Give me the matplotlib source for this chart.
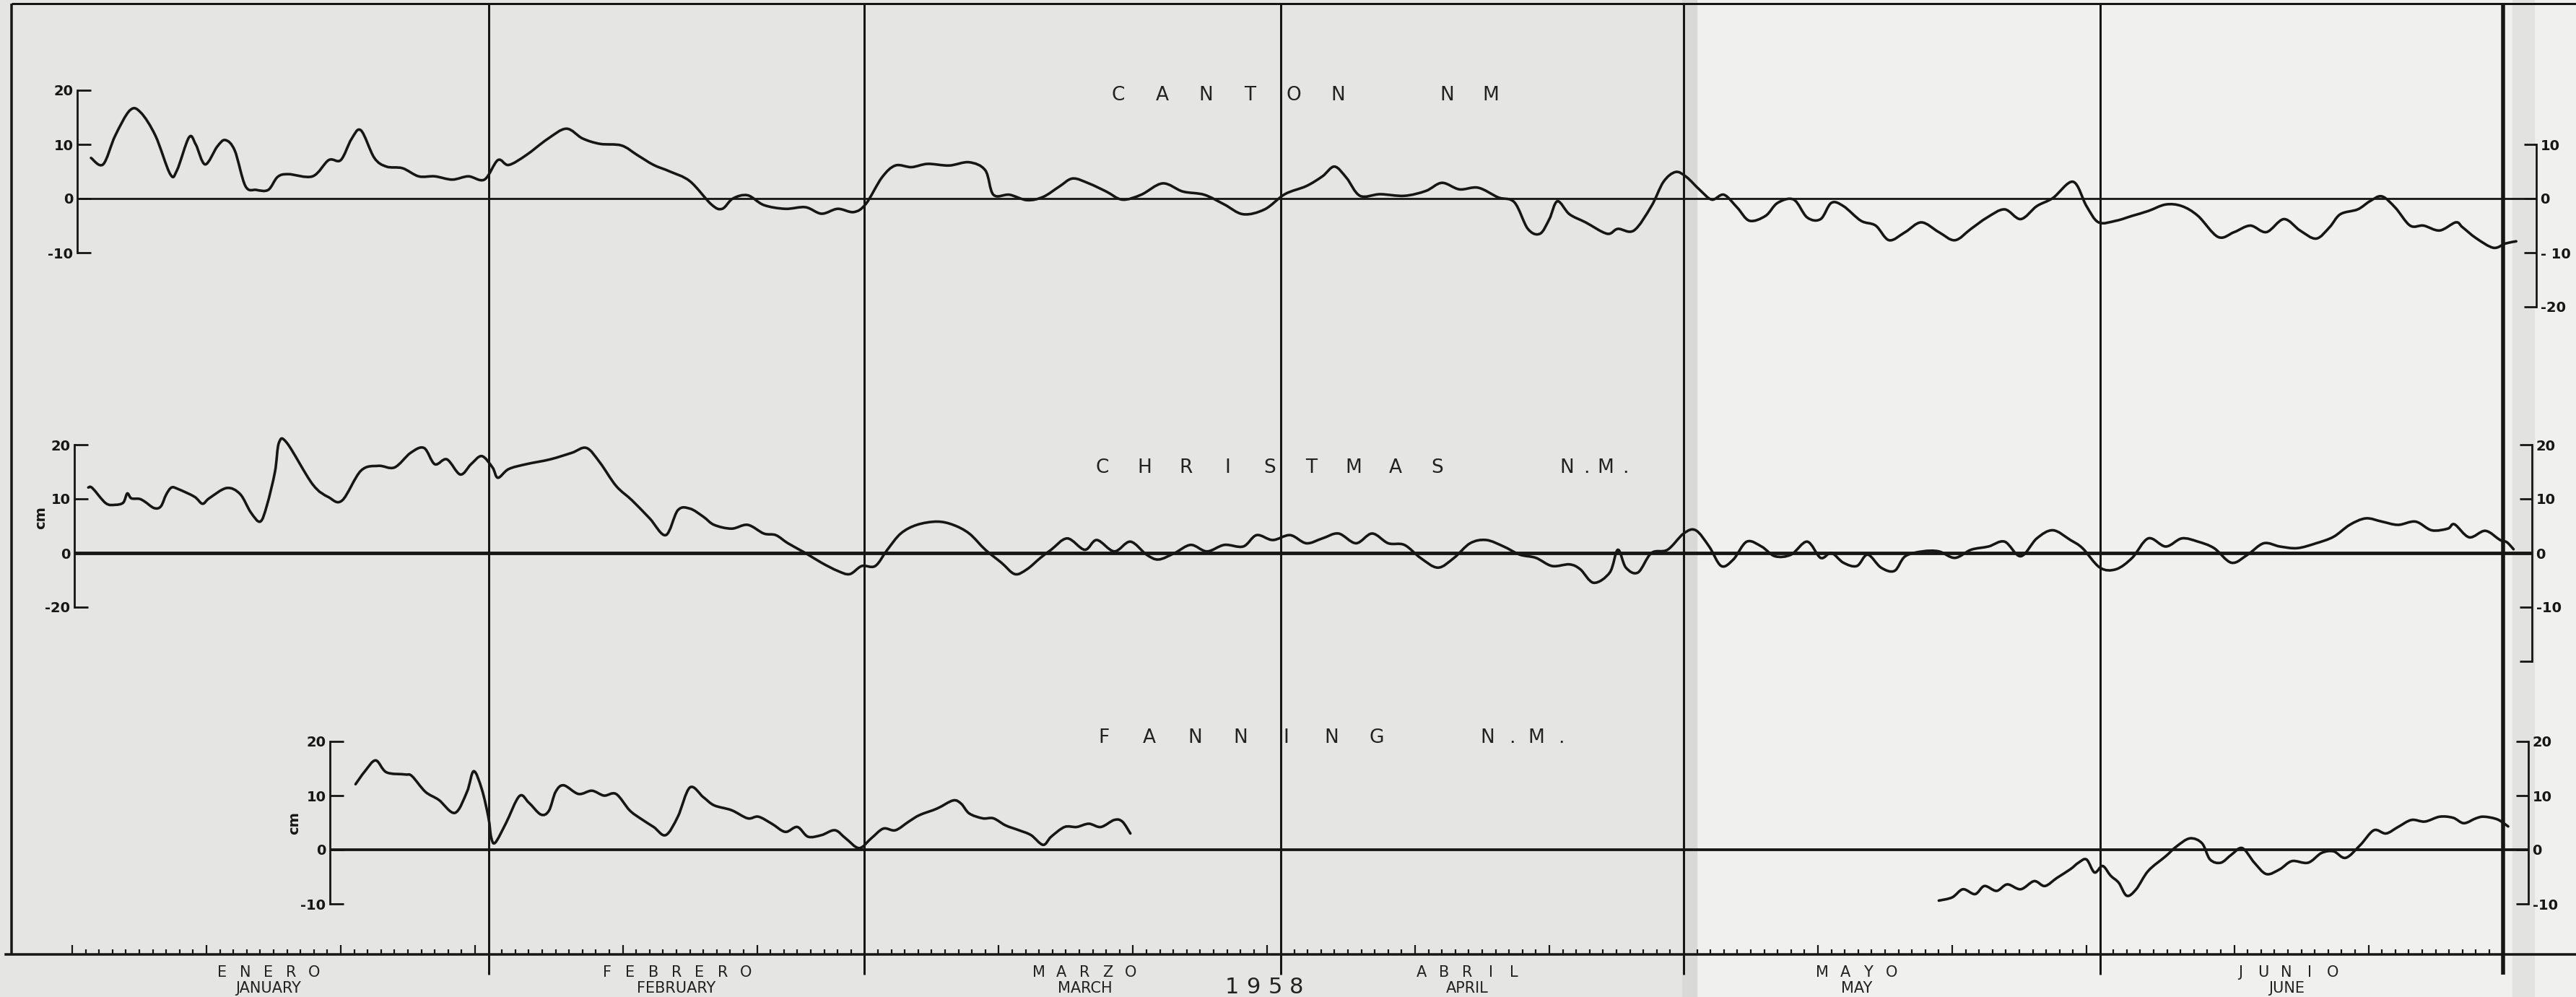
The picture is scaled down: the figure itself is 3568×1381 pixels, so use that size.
import numpy as np
import matplotlib.pyplot as plt
from matplotlib.patches import Rectangle, PathPatch
from matplotlib.path import Path

W, H, DPI = 3568, 1381, 100
PX = 72 / DPI                     # points per pixel
X0, DAY = 100, 18.6               # 1 Jan at x0, pixels per day
CM = 7.5                          # pixels per cm
XLIM = (-X0 / DAY, (W - X0) / DAY)
NARROW = ["Liberation Sans Narrow", "DejaVu Sans"]

# day of year 1958 (0 = 1 Jan) and sea level departure in cm
canton_days = [1.4, 2.3, 3.2, 4.3, 5.1, 6.2, 7.3, 7.8, 8.7, 9.2,
               9.9, 10.8, 11.4, 12.1, 12.9, 13.7, 14.6, 15.3, 16.1, 17.9,
               19.1, 20.0, 20.8, 21.5, 22.5, 23.4, 24.6, 25.8, 27.0, 28.3,
               29.5, 30.7, 31.7, 32.5, 33.8, 35.4, 36.8, 38.0, 39.3, 40.9,
               42.1, 43.3, 44.5, 46.0, 47.6, 48.4, 49.2, 50.3, 51.5, 53.1,
               54.6, 55.8, 57.0, 58.2, 59.1, 60.3, 61.3, 62.5, 63.7, 65.3,
               66.8, 68.0, 68.6, 69.8, 71.1, 72.3, 73.5, 74.5, 75.7, 77.0,
               78.2, 79.6, 81.2, 82.7, 84.3, 85.8, 87.2, 88.8, 90.3, 91.9,
               93.1, 94.0, 94.9, 95.9, 97.4, 99.2, 100.8, 102.0, 103.3, 104.7,
               106.2, 107.4, 108.4, 109.3, 110.0, 110.6, 111.5, 112.7, 114.3, 115.1,
               116.3, 117.6, 118.5, 119.4, 120.2, 121.2, 122.1, 123.0, 124.0, 124.9,
               126.1, 127.0, 128.2, 129.2, 130.2, 131.0, 131.9, 133.2, 134.3, 135.3,
               136.5, 137.7, 139.0, 140.2, 141.4, 142.6, 143.9, 145.1, 146.3, 147.5,
               149.0, 150.0, 150.9, 152.2, 153.4, 154.6, 155.9, 157.1, 158.3, 159.8,
               161.0, 162.2, 163.4, 164.7, 165.9, 167.1, 168.1, 168.9, 170.2, 171.1,
               172.0, 173.0, 174.1, 175.1, 176.3, 177.5, 178.0, 179.0, 180.3, 181.2,
               182.0]
canton_cm = [7.5, 6.3, 11.6, 16.3, 15.9, 11.6, 4.5, 5.2, 11.3, 10.0,
             6.3, 9.6, 10.8, 8.9, 2.3, 1.6, 1.6, 4.0, 4.5, 4.1,
             7.1, 7.1, 11.0, 12.6, 7.5, 5.9, 5.6, 4.1, 4.1, 3.5,
             4.1, 3.5, 7.1, 6.2, 8.0, 11.0, 12.9, 11.1, 10.1, 9.8,
             8.0, 6.2, 5.0, 3.2, -1.1, -1.9, 0.0, 0.6, -1.2, -1.9,
             -1.6, -2.8, -1.9, -2.5, -1.0, 3.9, 6.1, 5.8, 6.4, 6.1,
             6.7, 5.2, 0.7, 0.7, -0.3, 0.3, 2.2, 3.7, 2.8, 1.3,
             -0.2, 0.7, 2.8, 1.3, 0.7, -1.1, -2.9, -2.0, 0.8, 2.3,
             4.1, 5.9, 3.8, 0.5, 0.8, 0.5, 1.4, 2.9, 1.7, 2.0,
             0.2, -0.7, -5.6, -6.5, -3.8, -0.5, -2.9, -4.4, -6.5, -5.6,
             -5.9, -1.4, 3.1, 4.9, 4.0, 1.6, -0.2, 0.7, -1.7, -4.1,
             -3.2, -0.8, -0.2, -3.5, -3.8, -0.8, -1.4, -4.1, -5.0, -7.7,
             -6.2, -4.4, -6.2, -7.7, -5.6, -3.5, -2.0, -3.8, -1.4, 0.1,
             3.1, -1.4, -4.4, -4.1, -3.2, -2.3, -1.1, -1.4, -3.2, -7.1,
             -6.2, -5.0, -6.2, -3.8, -5.9, -7.4, -5.3, -2.9, -2.0, -0.5,
             0.4, -1.7, -5.0, -5.0, -5.9, -4.4, -5.3, -7.3, -9.1, -8.3,
             -7.9]

christmas_days = [1.2, 1.5, 2.5, 3.2, 3.8, 4.1, 4.4, 5.0, 5.4, 6.1,
                  6.6, 7.0, 7.4, 7.9, 9.1, 9.7, 10.2, 11.5, 12.5, 13.3,
                  14.0, 14.5, 15.1, 15.4, 16.0, 17.9, 19.1, 20.1, 21.5, 22.8,
                  24.0, 25.2, 26.2, 27.0, 27.9, 28.9, 29.7, 30.5, 31.3, 31.7,
                  32.5, 33.8, 35.6, 37.2, 38.3, 39.3, 40.5, 41.7, 43.0, 44.2,
                  45.1, 46.0, 47.0, 47.8, 49.1, 50.3, 51.5, 52.4, 53.3, 54.6,
                  55.8, 57.0, 57.9, 58.8, 59.8, 60.7, 61.7, 62.9, 64.4, 65.6,
                  66.8, 68.0, 69.2, 70.2, 71.1, 72.1, 72.9, 74.1, 75.4, 76.3,
                  77.6, 78.8, 80.0, 80.9, 82.1, 83.3, 84.5, 85.8, 87.2, 88.2,
                  89.4, 90.7, 91.9, 93.1, 94.3, 95.6, 96.8, 98.0, 99.2, 100.4,
                  101.7, 102.9, 104.1, 105.3, 106.6, 107.8, 109.0, 110.2, 111.5, 112.3,
                  113.3, 114.5, 115.1, 115.7, 116.6, 117.6, 118.8, 120.0, 120.9, 121.9,
                  122.8, 123.7, 124.7, 125.8, 126.8, 128.0, 129.2, 130.2, 131.0, 131.9,
                  132.9, 133.7, 134.7, 135.7, 136.5, 137.8, 139.0, 140.2, 141.4, 142.7,
                  143.9, 145.1, 146.3, 147.5, 148.8, 149.7, 151.0, 152.2, 153.4, 154.6,
                  155.9, 157.1, 158.3, 159.5, 160.8, 162.0, 163.2, 164.4, 165.7, 167.1,
                  168.4, 169.6, 170.8, 172.0, 173.2, 174.5, 175.7, 176.9, 177.4, 178.5,
                  179.7, 180.8, 181.3, 181.8]
christmas_cm = [12.1, 12.0, 9.2, 8.9, 9.3, 11.0, 10.1, 10.0, 9.5, 8.3,
                8.6, 10.8, 12.1, 11.8, 10.4, 9.1, 10.1, 12.0, 10.9, 7.5,
                5.8, 8.8, 15.0, 20.4, 20.3, 12.7, 10.3, 9.7, 15.2, 16.1,
                15.8, 18.5, 19.4, 16.4, 17.3, 14.5, 16.4, 17.9, 15.8, 13.9,
                15.5, 16.4, 17.3, 18.5, 19.4, 16.7, 12.4, 9.7, 6.4, 3.3,
                7.9, 8.2, 6.7, 5.2, 4.5, 5.2, 3.6, 3.3, 1.8, 0.0,
                -1.8, -3.3, -3.9, -2.4, -2.4, 0.6, 3.6, 5.2, 5.8, 5.2,
                3.6, 0.6, -1.8, -3.9, -3.0, -0.9, 0.6, 2.7, 0.6, 2.4,
                0.3, 2.1, -0.3, -1.2, 0.0, 1.5, 0.3, 1.5, 1.2, 3.3,
                2.4, 3.3, 1.8, 2.7, 3.6, 1.8, 3.6, 1.8, 1.5, -0.9,
                -2.7, -0.9, 1.8, 2.4, 1.2, -0.3, -0.9, -2.4, -2.1, -3.0,
                -5.5, -3.6, 0.6, -2.7, -3.6, 0.0, 0.6, 3.6, 4.2, 1.2,
                -2.4, -1.2, 2.1, 1.2, -0.6, -0.3, 2.1, -0.9, 0.0, -1.8,
                -2.4, -0.3, -2.7, -3.3, -0.6, 0.3, 0.3, -0.9, 0.6, 1.2,
                2.1, -0.6, 2.7, 4.2, 2.4, 0.9, -2.7, -3.0, -0.9, 2.7,
                1.2, 2.7, 2.1, 0.9, -1.8, -0.3, 1.8, 1.2, 0.9, 1.8,
                3.0, 5.2, 6.4, 5.8, 5.2, 5.8, 4.2, 4.5, 5.3, 2.9,
                4.1, 2.4, 2.0, 0.7]

# Fanning record has a gap from March to mid May
fanning_days_a = [21.1, 21.8, 22.6, 23.4, 24.8, 25.3, 26.3, 27.3, 28.5, 29.4,
                  29.9, 30.5, 31.0, 31.2, 31.5, 32.3, 33.3, 34.0, 34.9, 35.5,
                  36.0, 36.6, 37.7, 38.7, 39.6, 40.5, 41.5, 42.3, 43.3, 44.2,
                  45.1, 46.0, 47.0, 47.8, 49.1, 50.3, 51.1, 52.1, 53.1, 54.0,
                  54.8, 55.8, 56.8, 57.6, 58.6, 59.5, 60.4, 61.3, 62.3, 63.1,
                  64.4, 65.6, 66.2, 66.8, 67.8, 68.6, 69.5, 70.5, 71.4, 72.3,
                  72.9, 73.9, 74.8, 75.7, 76.6, 77.6, 78.2, 78.8]
fanning_cm_a = [12.1, 14.5, 16.5, 14.3, 13.9, 13.6, 10.7, 9.2, 6.8, 10.7,
                14.5, 11.2, 5.9, 2.3, 1.3, 4.9, 9.9, 8.7, 6.5, 7.2,
                10.7, 11.9, 10.3, 10.9, 10.0, 10.3, 7.3, 5.8, 4.2, 2.7,
                6.1, 11.5, 9.7, 8.2, 7.3, 5.8, 6.1, 4.8, 3.3, 4.2,
                2.4, 2.7, 3.6, 2.1, 0.3, 2.1, 3.9, 3.6, 5.2, 6.4,
                7.6, 9.1, 8.5, 6.7, 5.8, 5.8, 4.5, 3.6, 2.7, 0.9,
                2.4, 4.2, 4.2, 4.8, 4.2, 5.5, 5.2, 3.0]
fanning_days_b = [139.0, 140.0, 140.8, 141.7, 142.4, 143.3, 144.1, 145.1, 146.1, 146.9,
                  147.8, 148.8, 149.4, 150.0, 150.6, 151.2, 151.8, 152.4, 153.0, 153.7,
                  154.6, 155.9, 156.7, 157.7, 158.6, 159.2, 160.0, 160.8, 161.6, 162.5,
                  163.4, 164.4, 165.3, 166.5, 167.5, 168.4, 169.3, 170.4, 171.4, 172.3,
                  173.2, 174.2, 175.2, 176.3, 177.3, 178.1, 179.0, 179.6, 180.6, 181.4]
fanning_cm_b = [-9.4, -8.8, -7.3, -8.2, -6.7, -7.6, -6.4, -7.3, -5.8, -6.7,
                -5.2, -3.6, -2.4, -1.8, -4.2, -3.0, -4.8, -6.1, -8.5, -7.3,
                -3.9, -1.2, 0.6, 2.1, 1.2, -1.8, -2.4, -0.9, 0.3, -2.4,
                -4.5, -3.6, -2.1, -2.4, -0.6, -0.3, -1.5, 0.9, 3.6, 3.0,
                4.2, 5.5, 5.2, 6.1, 5.9, 4.9, 5.8, 6.1, 5.6, 4.3]

month_starts = [31, 59, 90, 120, 151, 181]
month_es = ["ENERO", "FEBRERO", "MARZO", "ABRIL", "MAYO", "JUNIO"]
month_en = ["JANUARY", "FEBRUARY", "MARCH", "APRIL", "MAY", "JUNE"]
month_label_days = [14.6, 45.0, 75.4, 103.9, 132.9, 164.9]
long_tick_days = [0, 10, 20, 30, 41, 51, 69, 79, 89, 100, 110, 130, 140, 150, 161, 171]

INK = "#161616"


def day(px):
    return (px - X0) / DAY


def spaced(letters, x_start, step, y, size):
    for i, ch in enumerate(letters):
        fig.text((x_start + i * step) / W, y / H, ch, ha="center", va="center",
                 fontsize=size, family=NARROW, color="#222222")


def pen_line(ax, x, y, lw):
    # smooth pen stroke through the readings (cubic Bezier, Catmull-Rom tangents)
    p = np.column_stack([x, y])
    q = np.vstack([p[0], p, p[-1]])
    verts = [p[0]]
    for i in range(len(p) - 1):
        c1 = q[i + 1] + (q[i + 2] - q[i]) / 6.0
        c2 = q[i + 2] - (q[i + 3] - q[i + 1]) / 6.0
        verts += [c1, c2, p[i + 1]]
    codes = [Path.MOVETO] + [Path.CURVE4] * (len(verts) - 1)
    ax.add_patch(PathPatch(Path(verts, codes), fill=False, edgecolor=INK,
                           lw=lw * PX, joinstyle="round", capstyle="round"))


fig = plt.figure(figsize=(W / DPI, H / DPI), dpi=DPI)
fig.set_facecolor("#f0f0ee")
# older, darker sheet on the left, fold shadows
fig.patches.append(Rectangle((0, 0), 2335 / W, 1, transform=fig.transFigure,
                             color="#e5e5e3", zorder=-10))
fig.patches.append(Rectangle((2330 / W, 0), 20 / W, 1, transform=fig.transFigure,
                             color="#d9d9d7", zorder=-9))
fig.patches.append(Rectangle((3480 / W, 0), 30 / W, 1, transform=fig.transFigure,
                             color="#e2e2e0", zorder=-9))

# frame: borders, month lines, daily time scale
frame = fig.add_axes([0, 0, 1, 1])
frame.set_xlim(*XLIM)
frame.set_ylim(0, H)
frame.patch.set_visible(False)
for s in ["top", "left", "right"]:
    frame.spines[s].set_visible(False)
frame.spines["bottom"].set_position(("data", H - 1322))
frame.spines["bottom"].set_bounds(day(8), XLIM[1])
frame.spines["bottom"].set_linewidth(3.5 * PX)
frame.spines["bottom"].set_color(INK)
frame.set_yticks([])
frame.set_xticks(long_tick_days)
frame.set_xticks([d for d in range(0, 181) if d not in long_tick_days and d not in month_starts],
                 minor=True)
frame.tick_params(axis="x", which="both", direction="in", width=2.2 * PX,
                  color=INK, labelbottom=False)
frame.tick_params(axis="x", which="major", length=13 * PX)
frame.tick_params(axis="x", which="minor", length=7 * PX)
frame.hlines(H - 5, day(16), XLIM[1], color=INK, lw=3 * PX)
frame.vlines(day(16), H - 1322, H - 5, color=INK, lw=3.5 * PX)
frame.vlines(month_starts[:-1], 31, H - 5, color=INK, lw=3 * PX)
frame.vlines(month_starts[-1], 31, H - 5, color=INK, lw=5.5 * PX)

for d, es, en in zip(month_label_days, month_es, month_en):
    xc = X0 + d * DAY
    spaced(es, xc - (len(es) - 1) * 16, 32, H - 1347, 15)
    fig.text(xc / W, (H - 1369) / H, en, ha="center", va="center",
             fontsize=15, family=NARROW, color="#222222")
spaced("1958", 1706, 30, H - 1368, 22)


def station(zero_px, left_day, lticks, llabels, right_day, rticks, rlabels, zero_lw):
    bottom = H - zero_px
    ax = fig.add_axes([0, 0, 1, 1])
    ax.set_xlim(*XLIM)
    ax.set_ylim(-bottom / CM, (H - bottom) / CM)
    ax.patch.set_visible(False)
    for s in ["top", "bottom", "right"]:
        ax.spines[s].set_visible(False)
    ax.spines["left"].set_position(("data", left_day))
    ax.spines["left"].set_bounds(min(lticks), max(lticks))
    ax.spines["left"].set_linewidth(2.8 * PX)
    ax.spines["left"].set_color(INK)
    ax.set_xticks([])
    ax.set_yticks(lticks)
    ax.set_yticklabels(llabels, fontweight="bold")
    ax.tick_params(axis="y", direction="in", length=19 * PX, width=2.8 * PX,
                   pad=4, labelsize=14, labelcolor=INK, color=INK)

    axr = ax.twinx()
    axr.set_ylim(ax.get_ylim())
    axr.patch.set_visible(False)
    for s in ["top", "bottom", "left"]:
        axr.spines[s].set_visible(False)
    axr.spines["right"].set_position(("data", right_day))
    axr.spines["right"].set_bounds(min(rticks), max(rticks))
    axr.spines["right"].set_linewidth(2.8 * PX)
    axr.spines["right"].set_color(INK)
    axr.set_yticks(rticks)
    axr.set_yticklabels(rlabels, fontweight="bold")
    axr.tick_params(axis="y", direction="in", length=17 * PX, width=2.8 * PX,
                    pad=4, labelsize=14, labelcolor=INK, color=INK)

    ax.hlines(0, left_day, right_day, color=INK, lw=zero_lw * PX)
    return ax


ax_c = station(275, day(107), [20, 10, 0, -10], ["20", "10", "0", "-10"],
               day(3513), [10, 0, -10, -20], ["10", "0", "- 10", "-20"], 2.8)
pen_line(ax_c, canton_days, canton_cm, 3.6)
spaced("CANTON", 1549, 60.8, H - 132, 19)
spaced("NM", 2004, 61, H - 132, 19)

ax_x = station(766, day(103), [20, 10, 0, -10], ["20", "10", "0", "-20"],
               day(3507), [20, 10, 0, -10, -20], ["20", "10", "0", "-10", ""], 4.8)
pen_line(ax_x, christmas_days, christmas_cm, 3.6)
spaced("CHRISTMAS", 1527, 57.9, H - 648, 19)
spaced("N.M.", 2170, 27, H - 648, 19)
fig.text(57 / W, (H - 717) / H, "cm", rotation=90, ha="center", va="center",
         fontsize=14, fontweight="bold", color=INK)

ax_f = station(1177, day(457), [20, 10, 0, -10], ["20", "10", "0", "-10"],
               day(3502), [20, 10, 0, -10], ["20", "10", "0", "-10"], 3.8)
pen_line(ax_f, fanning_days_a, fanning_cm_a, 3.6)
pen_line(ax_f, fanning_days_b, fanning_cm_b, 3.6)
spaced("FANNING", 1529, 63, H - 1022, 19)
spaced("N.M.", 2060, 34, H - 1022, 19)
fig.text(408 / W, (H - 1140) / H, "cm", rotation=90, ha="center", va="center",
         fontsize=14, fontweight="bold", color=INK)

fig.savefig("out.png", dpi=DPI, facecolor=fig.get_facecolor())
